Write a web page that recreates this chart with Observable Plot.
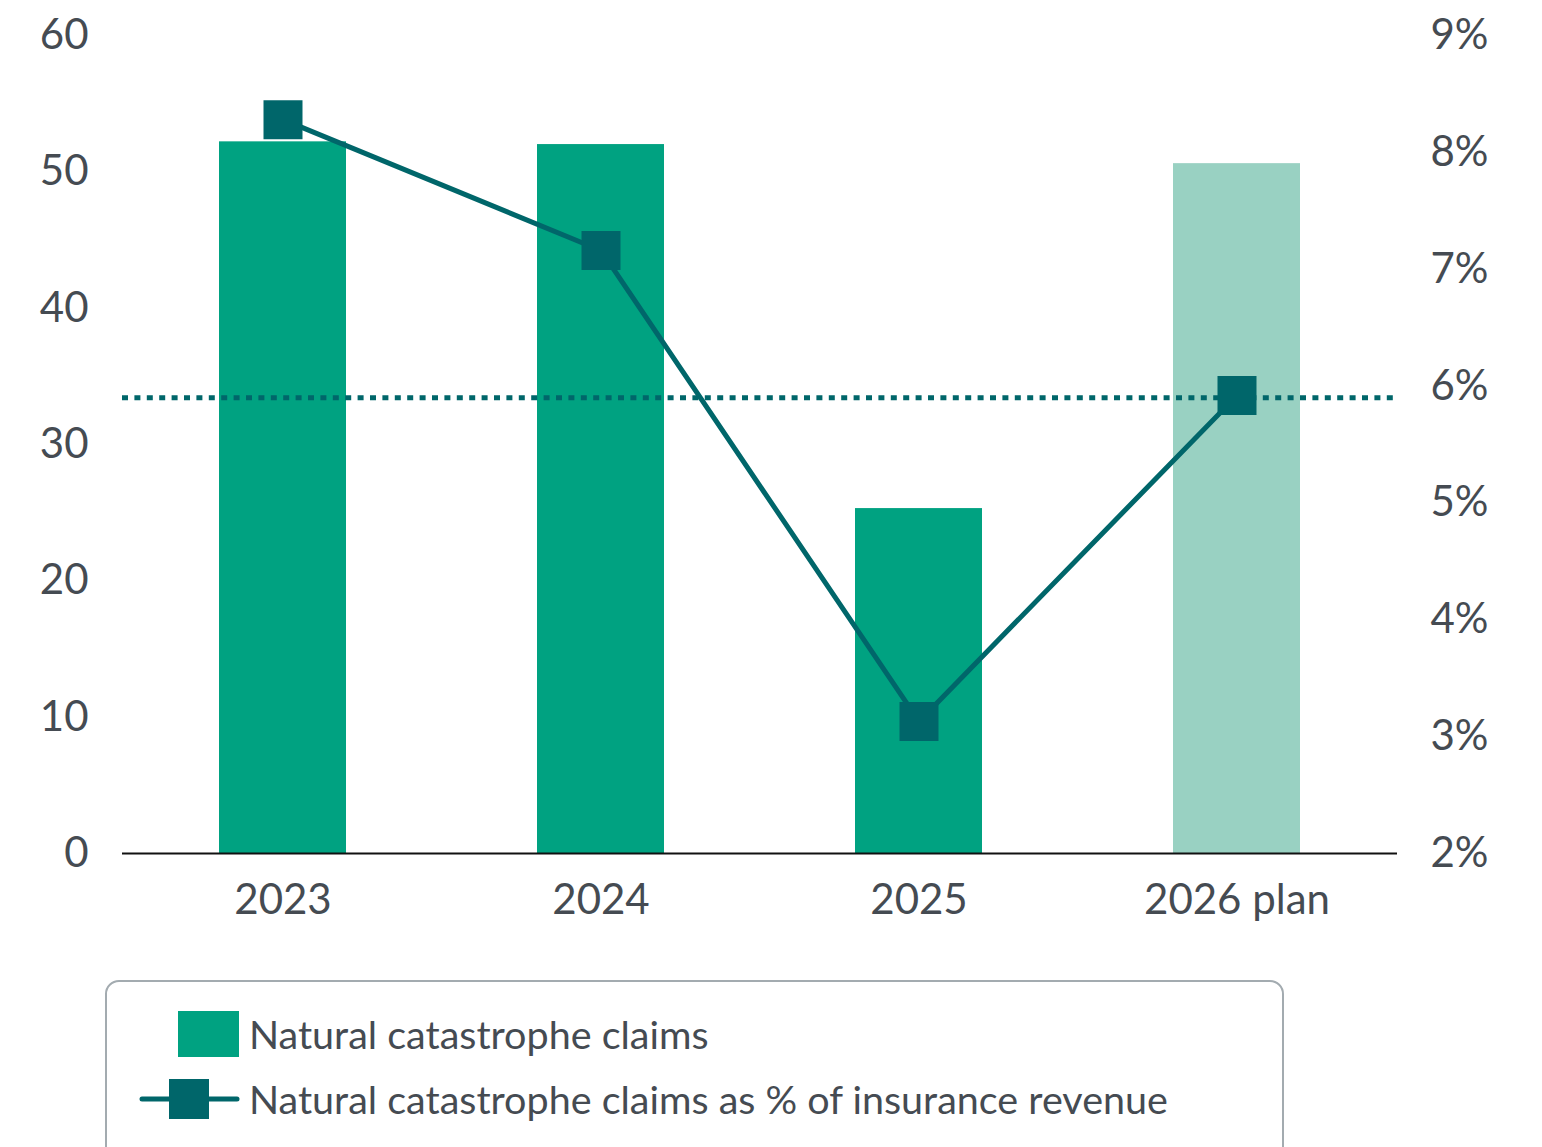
<!DOCTYPE html>
<html>
<head>
<meta charset="utf-8">
<script src="https://cdn.jsdelivr.net/npm/d3@7"></script>
<script src="https://cdn.jsdelivr.net/npm/@observablehq/plot@0.6"></script>
<style>
  html, body { margin: 0; padding: 0; background: #fff; overflow: hidden; }
  body { width: 1542px; height: 1147px; position: relative; font-family: Lato, "Open Sans", sans-serif; }
  #chart { position: absolute; left: 0; top: 0; }
  #legend { position: absolute; left: 105px; top: 980px; width: 1179px; height: 220px;
            border: 2px solid #a3abb0; border-radius: 14px; box-sizing: border-box; }
  .row { position: absolute; left: 0; display: flex; align-items: center; color: #454b52; font-size: 39.5px; }
  .row svg { display: block; }
</style>
</head>
<body>
<div id="chart"></div>
<div id="legend"></div>
<script>
// ---- data ----
const categories = ["2023", "2024", "2025", "2026 plan"];
const claims = [52.2, 52.0, 25.3, 50.6];            // left axis
const claimsPct = [8.28, 7.16, 3.13, 5.92];         // right axis, % of insurance revenue
const isPlan = [false, false, false, true];
const targetPct = 5.9;                               // dotted reference line
const leftTicks = [0, 10, 20, 30, 40, 50, 60];
const rightTicks = [2, 3, 4, 5, 6, 7, 8, 9];
const seriesNames = ["Natural catastrophe claims", "Natural catastrophe claims as % of insurance revenue"];

// ---- colours ----
const barColor = "#00a281";
const planColor = "#99d1c2";
const lineColor = "#00666a";
const textColor = "#454b52";

// map right-axis percentage onto the left axis domain
const leftMax = 60, pctMin = 2, pctMax = 9;
const pctToLeft = p => (p - pctMin) / (pctMax - pctMin) * leftMax;
const leftToPct = v => v / leftMax * (pctMax - pctMin) + pctMin;

const data = categories.map((c, i) => ({year: c, claims: claims[i], pct: claimsPct[i], plan: isPlan[i]}));

const chart = Plot.plot({
  width: 1542,
  height: 940,
  marginLeft: 122,
  marginRight: 145,
  marginTop: 35,
  marginBottom: 87,
  style: {fontFamily: "Lato, 'Open Sans', sans-serif", color: textColor, background: "transparent"},
  x: {domain: categories, paddingInner: 0.6, paddingOuter: 0.3, label: null},
  y: {domain: [0, leftMax], label: null},
  marks: [
    Plot.barY(data, {x: "year", y: "claims", fill: d => d.plan ? planColor : barColor}),
    Plot.ruleY([0], {stroke: "#111", strokeWidth: 2}),
    Plot.ruleY([pctToLeft(targetPct)], {stroke: lineColor, strokeWidth: 5, strokeDasharray: "6,6.4"}),
    Plot.line(data, {x: "year", y: d => pctToLeft(d.pct), stroke: lineColor, strokeWidth: 5}),
    Plot.dot(data, {x: "year", y: d => pctToLeft(d.pct), symbol: "square", r: 22, fill: lineColor, stroke: "none"}),
    Plot.axisY(leftTicks, {anchor: "left", tickSize: 0, tickPadding: 34, fontSize: 42, fill: textColor, label: null}),
    Plot.axisY(rightTicks.map(pctToLeft), {anchor: "right", tickSize: 0, tickPadding: 33, fontSize: 42, fill: textColor,
      tickFormat: v => Math.round(leftToPct(v)) + "%", label: null}),
    Plot.axisX({tickSize: 0, tickPadding: 31, fontSize: 42, fill: textColor, label: null})
  ]
});
document.getElementById("chart").appendChild(chart);

// ---- legend ----
const legend = document.getElementById("legend");
function row(top, swatchSvg, text) {
  const r = document.createElement("div");
  r.className = "row";
  r.style.top = top + "px";
  r.innerHTML = swatchSvg + `<span style="margin-left:8px">${text}</span>`;
  legend.appendChild(r);
}
row(28, `<svg width="134" height="46"><rect x="71" y="0" width="61" height="46" fill="${barColor}"/></svg>`, seriesNames[0]);
row(93, `<svg width="134" height="40"><line x1="35" x2="130" y1="20" y2="20" stroke="${lineColor}" stroke-width="5" stroke-linecap="round"/><rect x="62" y="0" width="40" height="40" fill="${lineColor}"/></svg>`, seriesNames[1]);
</script>
</body>
</html>
